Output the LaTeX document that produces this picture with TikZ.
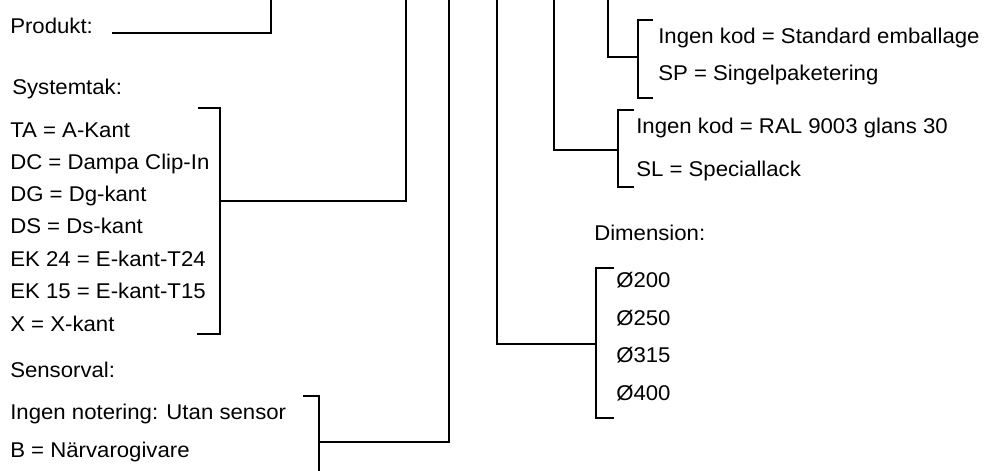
\documentclass[tikz,border=0pt]{standalone}
\usepackage{fontspec}
\setmainfont[FakeStretch=1.04]{Liberation Sans}
\tikzstyle{itemtext} = [anchor=base west, inner sep=0pt, font=\fontsize{16}{19}\selectfont]
\tikzstyle{bracket} = [line width=0.9pt]

\begin{document}
\begin{tikzpicture}[x=0.75pt, y=-0.75pt]
    \useasboundingbox (0,0) rectangle (985,471);

    % left column
    \node (produkt) [itemtext] at (10,33) {Produkt:};
    \node (systemtak) [itemtext] at (12,94) {Systemtak:};
    \node (ta) [itemtext] at (10,137) {TA = A-Kant};
    \node (dc) [itemtext] at (10,169) {DC = Dampa Clip-In};
    \node (dg) [itemtext] at (10,201) {DG = Dg-kant};
    \node (ds) [itemtext] at (10,233) {DS = Ds-kant};
    \node (ek24) [itemtext] at (10,266) {EK 24 = E-kant-T24};
    \node (ek15) [itemtext] at (10,298) {EK 15 = E-kant-T15};
    \node (xkant) [itemtext] at (10,331) {X = X-kant};
    \node (sensorval) [itemtext] at (10,377) {Sensorval:};
    \node (utansensor) [itemtext] at (10,419) {Ingen notering: Utan sensor};
    \node (narvaro) [itemtext] at (10,457) {B = Närvarogivare};

    % right column
    \node (stdpack) [itemtext] at (658,43) {Ingen kod = Standard emballage};
    \node (singel) [itemtext] at (658,80) {SP = Singelpaketering};
    \node (ral) [itemtext] at (636,133) {Ingen kod = RAL 9003 glans 30};
    \node (speciallack) [itemtext] at (636,176) {SL = Speciallack};
    \node (dimension) [itemtext] at (594,240) {Dimension:};
    \node (d200) [itemtext] at (616,287) {Ø200};
    \node (d250) [itemtext] at (616,325) {Ø250};
    \node (d315) [itemtext] at (616,362) {Ø315};
    \node (d400) [itemtext] at (616,400) {Ø400};

    % bracket points
    \coordinate (prodstart) at (112,33);
    \coordinate (prodtop) at (271,0);
    \coordinate (tak1) at (198,108);
    \coordinate (takjoin) at (220,201);
    \coordinate (tak2) at (197,334);
    \coordinate (taktop) at (406,0);
    \coordinate (sen1) at (303,396);
    \coordinate (senjoin) at (319,442);
    \coordinate (senbot) at (319,471);
    \coordinate (sentop) at (449,0);
    \coordinate (dimtop) at (497,0);
    \coordinate (dimjoin) at (596,344);
    \coordinate (dim1) at (614,268);
    \coordinate (dim2) at (614,418);
    \coordinate (lacktop) at (554,0);
    \coordinate (lackjoin) at (618,150);
    \coordinate (lack1) at (634,110);
    \coordinate (lack2) at (634,187);
    \coordinate (packtop) at (608,0);
    \coordinate (packjoin) at (638,57);
    \coordinate (pack1) at (653,20);
    \coordinate (pack2) at (653,98);

    \draw [bracket] (prodstart) -| (prodtop);
    \draw [bracket] (tak1) -| (takjoin) |- (tak2);
    \draw [bracket] (takjoin) -| (taktop);
    \draw [bracket] (sen1) -| (senjoin) -- (senbot);
    \draw [bracket] (senjoin) -| (sentop);
    \draw [bracket] (dimtop) |- (dimjoin);
    \draw [bracket] (dim1) -| (dimjoin) |- (dim2);
    \draw [bracket] (lacktop) |- (lackjoin);
    \draw [bracket] (lack1) -| (lackjoin) |- (lack2);
    \draw [bracket] (packtop) |- (packjoin);
    \draw [bracket] (pack1) -| (packjoin) |- (pack2);
\end{tikzpicture}
\end{document}
